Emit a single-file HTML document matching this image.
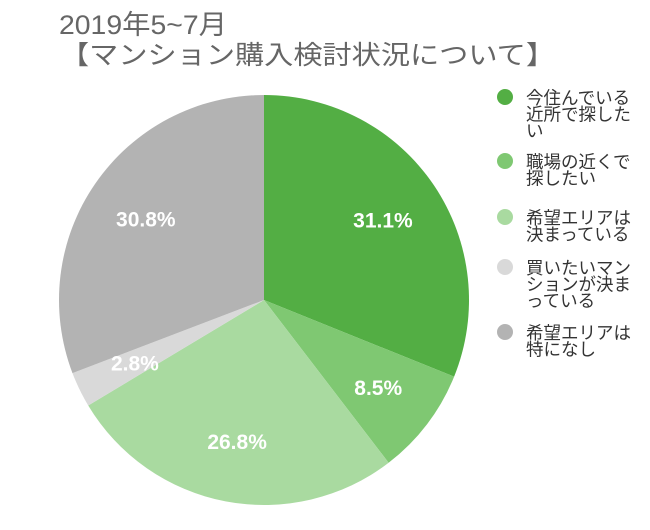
<!DOCTYPE html>
<html><head><meta charset="utf-8"><style>
body{margin:0;background:#fff;}
svg{display:block;font-family:"Liberation Sans","Noto Sans CJK JP",sans-serif;}
</style></head><body>
<svg id="c" width="650" height="530">
<text x="59" y="34" font-size="27" fill="#666" textLength="168" lengthAdjust="spacingAndGlyphs">2019年5~7月</text>
<text x="60" y="64" font-size="26" fill="#666" textLength="495" lengthAdjust="spacingAndGlyphs">【マンション購入検討状況について】</text>
<g id="slices"></g>
<g id="labels"></g>
<g id="legend"></g>
</svg>
<script>
const categories=["今住んでいる|近所で探した|い","職場の近くで|探したい","希望エリアは|決まっている","買いたいマン|ションが決ま|っている","希望エリアは|特になし"];
const values=[31.1,8.5,26.8,2.8,30.8];
const labels=["31.1%","8.5%","26.8%","2.8%","30.8%"];
const colors=["#53ae44","#7fc872","#a9daa0","#d9d9d9","#b3b3b3"];
const cx=264,cy=300,r=205;
const NS="http://www.w3.org/2000/svg";
const total=values.reduce((a,b)=>a+b,0);
const pt=(a,rr)=>[cx+Math.sin(a)*rr,cy-Math.cos(a)*rr];
let acc=0;
const sg=document.getElementById('slices'),lg=document.getElementById('labels'),leg=document.getElementById('legend');
values.forEach((v,i)=>{
  const a0=acc/total*2*Math.PI;acc+=v;const a1=acc/total*2*Math.PI;
  const p0=pt(a0,r),p1=pt(a1,r);
  const p=document.createElementNS(NS,'path');
  p.setAttribute('d',`M${cx},${cy}L${p0[0]},${p0[1]}A${r},${r} 0 ${a1-a0>Math.PI?1:0} 1 ${p1[0]},${p1[1]}Z`);
  p.setAttribute('fill',colors[i]);
  
  
  sg.appendChild(p);
  const m=pt((a0+a1)/2,r*0.7);
  const t=document.createElementNS(NS,'text');
  t.setAttribute('x',m[0]);t.setAttribute('y',m[1]+8);
  t.setAttribute('text-anchor','middle');t.setAttribute('font-size','21');
  t.setAttribute('font-weight','bold');t.setAttribute('fill','#fff');
  t.textContent=labels[i];
  
  
  lg.appendChild(t);
});
const rowY=[98,162,218,268,333];
categories.forEach((c,i)=>{
  const g=document.createElementNS(NS,'g');
  
  
  const ci=document.createElementNS(NS,'circle');
  ci.setAttribute('cx',505);ci.setAttribute('cy',rowY[i]-1);ci.setAttribute('r',8);
  ci.setAttribute('fill',colors[i]);
  
  
  g.appendChild(ci);
  c.split('|').forEach((line,j)=>{
    const t=document.createElementNS(NS,'text');
    t.setAttribute('x',526);t.setAttribute('y',rowY[i]+6+j*16.5);
    t.setAttribute('font-size','17.5');t.setAttribute('fill','#333');
    t.textContent=line;
    
    
    g.appendChild(t);
  });
  leg.appendChild(g);
});
</script>
</body></html>
